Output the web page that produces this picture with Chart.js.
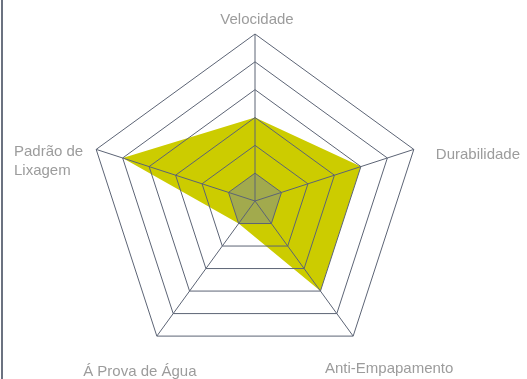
<!DOCTYPE html>
<html>
<head>
<meta charset="utf-8">
<script src="https://cdn.jsdelivr.net/npm/chart.js@4"></script>
<style>
  html, body { margin: 0; padding: 0; background: #fff; }
  #wrap { position: relative; width: 527px; height: 379px; }
  #edge { position: absolute; left: 1px; top: 0; width: 2px; height: 379px; background: #6b7280; }
</style>
</head>
<body>
<div id="wrap">
  <div id="edge"></div>
  <canvas id="radar" width="527" height="379"></canvas>
</div>
<script>
// axes of the radar
const labels = ["Velocidade", "Durabilidade", "Anti-Empapamento", "Á Prova de Água", ["Padrão de", "Lixagem"]]
// product score (yellow) and the base ring (grey)
const produto = [3, 4, 4, 1, 5]
const base = [1, 1, 1, 1, 1]
const scaleMax = 6

// where each axis label sits relative to its outer vertex
// (align, dx, dy to the first baseline)
const labelPlace = [
    ['center', 2, -10],
    ['left', 22, 10],
    ['center', 36, 37],
    ['center', -17, 40],
    ['right', -13, 7]
]

const axisLabels = {
    id: 'axisLabels',
    afterDraw(chart) {
        var scale = chart.scales.r
        var c = chart.ctx
        c.save()
        c.font = "15px 'Liberation Sans', Arial, sans-serif"
        c.fillStyle = "#9c9c9c"
        c.textBaseline = 'alphabetic'
        chart.data.labels.forEach((lab, i) => {
            var p = scale.getPointPosition(i, scale.drawingArea)
            var pl = labelPlace[i]
            var lines = Array.isArray(lab) ? lab : [lab]
            var x = p.x + pl[1], y = p.y + pl[2]
            if (pl[0] == 'right') {
                // block is right aligned on its first line, lines flush left
                var left = x - c.measureText(lines[0]).width
                c.textAlign = 'left'
                lines.forEach((t, k) => c.fillText(t, left, y + k * 19))
            } else {
                c.textAlign = pl[0]
                lines.forEach((t, k) => c.fillText(t, x, y + k * 19))
            }
        })
        c.restore()
    }
}

var ctx = document.getElementById("radar").getContext('2d');
var radar = new Chart(ctx, {
    type: 'radar',
    data: {
        labels: labels,
        datasets: [{
            data: base,
            backgroundColor: "rgba(119,136,153,0.5)",
            borderWidth: 0,
            pointRadius: 0
        }, {
            data: produto,
            backgroundColor: "#cccc00",
            borderWidth: 0,
            pointRadius: 0
        }]
    },
    options: {
        responsive: false,
        animation: false,
        layout: { padding: { top: 34, bottom: 11, left: 0, right: 17 } },
        plugins: { legend: { display: false }, tooltip: { enabled: false } },
        scales: {
            r: {
                min: 0,
                max: scaleMax,
                ticks: { display: false, stepSize: 1 },
                grid: { color: "#5c6475", lineWidth: 1, z: 1 },
                angleLines: { color: "#5c6475", lineWidth: 1 },
                pointLabels: { display: false }
            }
        }
    },
    plugins: [axisLabels]
});
</script>
</body>
</html>
